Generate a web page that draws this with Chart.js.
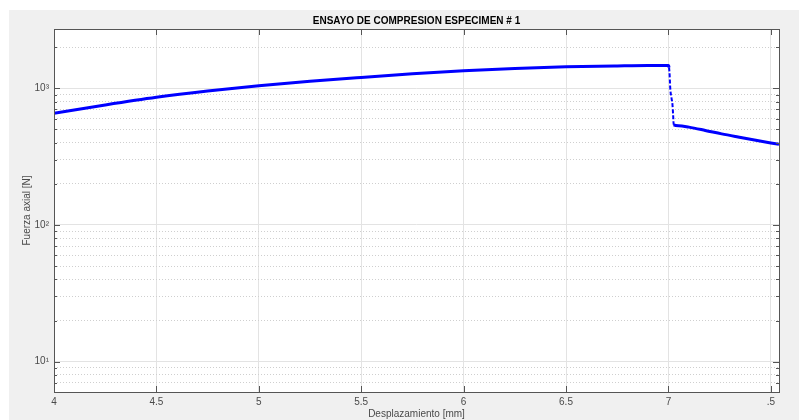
<!DOCTYPE html>
<html>
<head>
<meta charset="utf-8">
<script src="https://cdn.jsdelivr.net/npm/chart.js@4/dist/chart.umd.min.js"></script>
<style>
html,body{margin:0;padding:0;background:#fff;}
canvas{display:block;}
</style>
</head>
<body>
<canvas id="c" width="799" height="420"></canvas>
<script>
// ---- data ----
const dispMm = [4.00, 4.25, 4.50, 4.75, 5.00, 5.25, 5.50, 5.75, 6.00, 6.25, 6.50, 6.75, 6.90, 7.00,
                7.003, 7.006, 7.009, 7.015, 7.020, 7.023, 7.026, 7.05, 7.10, 7.18, 7.26, 7.34, 7.42, 7.54];
const forceN = [656, 755, 859, 955, 1045, 1127, 1202, 1276, 1343, 1396, 1435, 1459, 1469, 1469,
                1420, 1250, 1000, 850, 755, 640, 540, 533, 520, 492, 464, 440, 418, 389];
const xTickValues = [4, 4.5, 5, 5.5, 6, 6.5, 7, 7.5];
const xTickLabels = ['4', '4.5', '5', '5.5', '6', '6.5', '7', '.5'];
const yTickValues = [10, 100, 1000];
const yTickLabels = ['10\u00B9', '10\u00B2', '10\u00B3'];
const yMinorValues = [7, 8, 9, 20, 30, 40, 50, 60, 70, 80, 90, 200, 300, 400, 500, 600, 700, 800, 900, 2000];
const titleText = 'ENSAYO DE COMPRESION ESPECIMEN # 1';
const xTitle = 'Desplazamiento [mm]';
const yTitle = 'Fuerza axial [N]';

const points = dispMm.map((x, i) => ({x: x, y: forceN[i]}));
const FONT = 'Liberation Sans, Arial, Helvetica, sans-serif';
const TICKCOL = '#4a4a4a';
const AXCOL = '#555555';

const framePlugin = {
  id: 'frame',
  beforeDraw(chart) {
    const {ctx, chartArea: a} = chart;
    ctx.save();
    ctx.fillStyle = '#ffffff';
    ctx.fillRect(0, 0, chart.width, chart.height);
    ctx.fillStyle = '#f0f0f0';
    ctx.fillRect(9, 10, chart.width - 9, chart.height - 10);
    ctx.fillStyle = '#ffffff';
    ctx.fillRect(a.left, a.top, a.right - a.left, a.bottom - a.top);
    ctx.restore();
  },
  afterDraw(chart) {
    const {ctx, chartArea: a, scales} = chart;
    ctx.save();
    ctx.strokeStyle = AXCOL;
    ctx.lineWidth = 1;
    ctx.beginPath();
    scales.x.ticks.forEach(t => {
      const px = Math.round(scales.x.getPixelForValue(t.value)) + 0.5;
      ctx.moveTo(px, a.bottom); ctx.lineTo(px, a.bottom - 6);
      ctx.moveTo(px, a.top); ctx.lineTo(px, a.top + 6);
    });
    scales.y.ticks.forEach(t => {
      const py = Math.round(scales.y.getPixelForValue(t.value)) + 0.5;
      ctx.moveTo(a.left, py); ctx.lineTo(a.left + 6, py);
      ctx.moveTo(a.right, py); ctx.lineTo(a.right - 6, py);
    });
    scales.yMinor.ticks.forEach(t => {
      const py = Math.round(scales.yMinor.getPixelForValue(t.value)) + 0.5;
      ctx.moveTo(a.left, py); ctx.lineTo(a.left + 3, py);
      ctx.moveTo(a.right, py); ctx.lineTo(a.right - 3, py);
    });
    ctx.stroke();
    ctx.strokeRect(Math.round(a.left) + 0.5, Math.round(a.top) + 0.5,
                   Math.round(a.right - a.left), Math.round(a.bottom - a.top));
    ctx.restore();
  }
};

const isDrop = ctx => (ctx.p1.parsed.x - ctx.p0.parsed.x < 0.02 && ctx.p0.parsed.y / ctx.p1.parsed.y > 1.08);

new Chart(document.getElementById('c'), {
  type: 'line',
  data: {
    datasets: [{
      data: points,
      borderColor: '#0000ff',
      borderWidth: 3,
      pointRadius: 0,
      cubicInterpolationMode: 'monotone',
      fill: false,
      borderJoinStyle: 'round',
      segment: {
        borderDash: ctx => isDrop(ctx) ? [4, 2] : undefined,
        borderWidth: ctx => isDrop(ctx) ? 2 : undefined
      }
    }]
  },
  options: {
    responsive: false,
    animation: false,
    devicePixelRatio: 1,
    layout: {padding: {left: 0, right: 20, top: 0, bottom: 0}},
    plugins: {
      legend: {display: false},
      tooltip: {enabled: false},
      title: {
        display: true,
        text: titleText,
        fullSize: false,
        color: '#000000',
        font: {family: FONT, size: 10, weight: 'bold', lineHeight: 1.2},
        padding: {top: 15, bottom: 2}
      }
    },
    scales: {
      x: {
        type: 'linear',
        position: 'bottom',
        min: 4,
        max: 7.54,
        afterBuildTicks: s => { s.ticks = xTickValues.map(v => ({value: v})); },
        afterFit: s => { s.height = 28; },
        ticks: {
          color: TICKCOL,
          font: {family: FONT, size: 10},
          padding: 4,
          maxRotation: 0,
          autoSkip: false,
          callback: (v) => { const i = xTickValues.indexOf(v); return i >= 0 ? xTickLabels[i] : ''; }
        },
        grid: {color: '#e3e3e3', lineWidth: 1, drawTicks: false},
        border: {display: false},
        title: {display: true, text: xTitle, color: TICKCOL, font: {family: FONT, size: 10, lineHeight: 1.2}, padding: {top: 0, bottom: 0}}
      },
      yMinor: {
        type: 'logarithmic',
        position: 'left',
        min: 6,
        max: 2716,
        afterBuildTicks: s => { s.ticks = yMinorValues.map(v => ({value: v})); },
        afterFit: s => { s.width = 0; },
        ticks: {display: false},
        grid: {color: '#cfcfcf', lineWidth: 1, drawTicks: false},
        border: {display: false, dash: [1, 2]}
      },
      y: {
        type: 'logarithmic',
        position: 'left',
        min: 6,
        max: 2716,
        afterBuildTicks: s => { s.ticks = yTickValues.map(v => ({value: v})); },
        afterFit: s => { s.width = 54; },
        ticks: {
          color: TICKCOL,
          font: {family: FONT, size: 10},
          padding: 5,
          autoSkip: false,
          callback: (v) => { const i = yTickValues.indexOf(v); return i >= 0 ? yTickLabels[i] : ''; }
        },
        grid: {color: '#e3e3e3', lineWidth: 1, drawTicks: false},
        border: {display: false},
        title: {display: true, text: yTitle, color: TICKCOL, font: {family: FONT, size: 10, lineHeight: 1.2}, padding: {top: 21, bottom: 0}}
      }
    }
  },
  plugins: [framePlugin]
});
</script>
</body>
</html>
